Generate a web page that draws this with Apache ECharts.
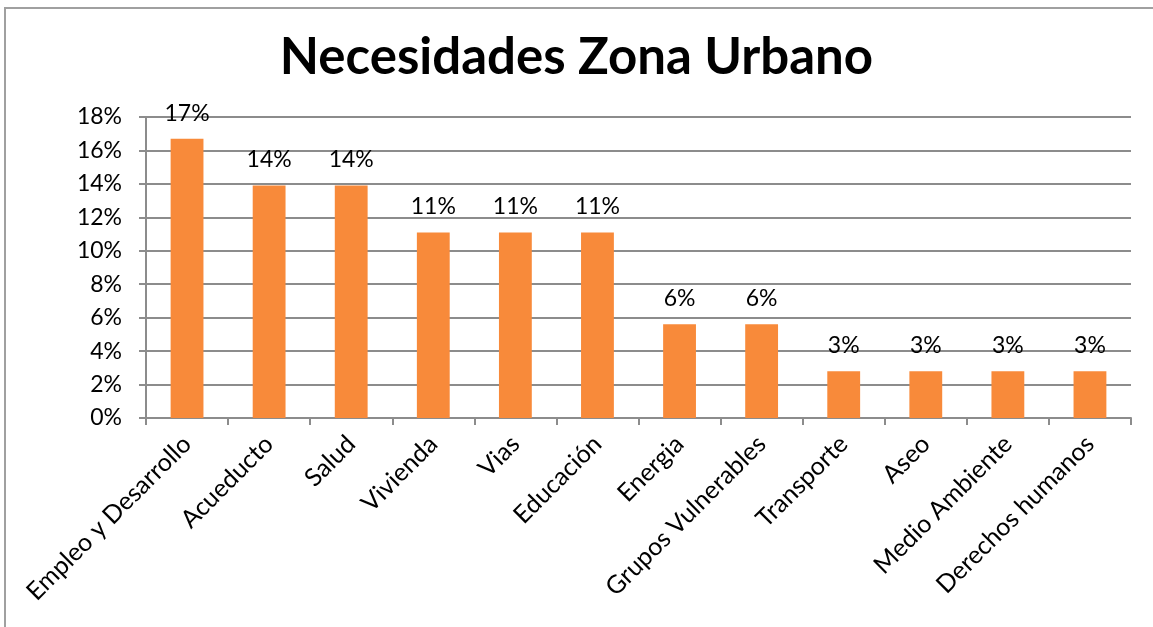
<!DOCTYPE html>
<html>
<head>
<meta charset="utf-8">
<script src="https://cdn.jsdelivr.net/npm/echarts@6/dist/echarts.min.js"></script>
<style>
    html, body { margin: 0; padding: 0; background: #fff; }
    #chart { width: 1153px; height: 627px; }
</style>
</head>
<body>
<div id="chart"></div>
<script>
    var categories = ['Empleo y Desarrollo', 'Acueducto', 'Salud', 'Vivienda', 'Vias', 'Educación',
        'Energia', 'Grupos Vulnerables', 'Transporte', 'Aseo', 'Medio Ambiente', 'Derechos humanos'];
    var values = [16.7, 13.9, 13.9, 11.1, 11.1, 11.1, 5.6, 5.6, 2.8, 2.8, 2.8, 2.8];

    var chart = echarts.init(document.getElementById('chart'));
    var font = 'Lato, "Open Sans", sans-serif';

    var option = {
        animation: false,
        title: {
            text: 'Necesidades Zona Urbano',
            left: 'center',
            top: 27,
            textStyle: {fontFamily: font, fontSize: 51, fontWeight: 'bold', color: '#000'}
        },
        graphic: [{
            type: 'rect',
            shape: {x: 5, y: 8, width: 1160, height: 640},
            style: {fill: 'none', stroke: '#a0a0a0', lineWidth: 2},
            silent: true
        }],
        grid: {left: 146, right: 22, top: 117, bottom: 209},
        xAxis: {
            type: 'category',
            data: categories,
            axisLine: {lineStyle: {color: '#8c8c8c', width: 2}},
            axisTick: {show: true, length: 7, lineStyle: {color: '#8c8c8c', width: 2}},
            axisLabel: {
                rotate: 45, interval: 0, margin: 22,
                fontFamily: font, fontSize: 25, color: '#000'
            }
        },
        yAxis: {
            type: 'value',
            min: 0, max: 18, interval: 2,
            axisLine: {show: true, lineStyle: {color: '#8c8c8c', width: 2}},
            axisTick: {show: true, length: 7, lineStyle: {color: '#8c8c8c', width: 2}},
            splitLine: {lineStyle: {color: '#8c8c8c', width: 2}},
            axisLabel: {
                formatter: '{value}%', margin: 24,
                fontFamily: font, fontSize: 23, color: '#000'
            }
        },
        series: [{
            type: 'bar',
            data: values,
            barWidth: '40%',
            itemStyle: {color: '#F88A3A'},
            label: {
                show: true, position: 'top', distance: 14,
                formatter: function (p) { return Math.round(p.value) + '%'; },
                fontFamily: font, fontSize: 23, color: '#000'
            }
        }]
    };

    chart.setOption(option);
</script>
</body>
</html>
